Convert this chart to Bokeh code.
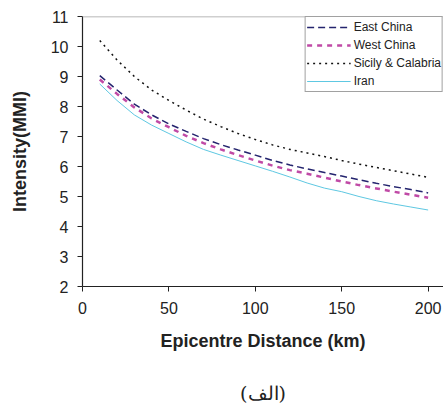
from bokeh.plotting import figure
from bokeh.models import FixedTicker, Range1d, Span, LinearAxis, Legend, LegendItem
from bokeh.embed import file_html
from bokeh.resources import INLINE

distance = [10, 20, 30, 40, 50, 60, 70, 80, 90, 100, 110, 120, 130, 140, 150, 160, 170, 180, 190, 200]
east_china = [9.03, 8.55, 8.08, 7.72, 7.42, 7.17, 6.93, 6.73, 6.55, 6.38, 6.20, 6.05, 5.92, 5.80, 5.68, 5.56, 5.44, 5.33, 5.23, 5.12]
west_china = [8.90, 8.42, 7.97, 7.60, 7.31, 7.02, 6.78, 6.57, 6.38, 6.20, 6.03, 5.88, 5.76, 5.63, 5.50, 5.38, 5.27, 5.16, 5.06, 4.96]
sicily_calabria = [10.20, 9.55, 9.00, 8.55, 8.20, 7.88, 7.58, 7.33, 7.10, 6.90, 6.72, 6.57, 6.45, 6.33, 6.20, 6.08, 5.97, 5.86, 5.75, 5.64]
iran = [8.75, 8.20, 7.72, 7.38, 7.10, 6.82, 6.57, 6.38, 6.20, 6.02, 5.84, 5.65, 5.45, 5.28, 5.16, 5.00, 4.86, 4.75, 4.65, 4.55]

x_ticks = [0, 50, 100, 150, 200]
y_ticks = [2, 3, 4, 5, 6, 7, 8, 9, 10, 11]
caption = "(الف)"

FONT = "Liberation Sans"

p = figure(width=443, height=406, output_backend="svg", toolbar_location=None,
           x_range=Range1d(0, 208.9), y_range=Range1d(2, 11),
           min_border_left=82, min_border_right=0, min_border_top=16, min_border_bottom=119)
p.outline_line_color = None
p.grid.visible = False
p.background_fill_color = "white"
p.border_fill_color = "white"

p.add_layout(Span(location=11, dimension="width", line_color="#a0a0a0", line_width=1.5))

r1 = p.line(distance, east_china, line_color="#24246e", line_width=1.5, line_dash="7 4")
r2 = p.line(distance, west_china, line_color="#c04aa6", line_width=2.5, line_dash="5 5")
r3 = p.line(distance, sicily_calabria, line_color="#111111", line_width=1.5, line_dash="2 4")
r4 = p.line(distance, iran, line_color="#5ec8e2", line_width=1)

for ax in (p.xaxis[0], p.yaxis[0]):
    ax.axis_line_color = "#222222"
    ax.axis_line_width = 1.2
    ax.major_tick_line_color = "#222222"
    ax.major_tick_out = 5
    ax.major_tick_in = 0
    ax.minor_tick_line_color = None
    ax.major_label_text_font = FONT
    ax.major_label_text_font_size = "16px"
    ax.major_label_text_color = "#222222"
    ax.axis_label_text_font = FONT
    ax.axis_label_text_font_size = "18px"
    ax.axis_label_text_font_style = "bold"
    ax.axis_label_text_color = "#222222"

p.xaxis.ticker = FixedTicker(ticks=x_ticks)
p.yaxis.ticker = FixedTicker(ticks=y_ticks)
p.xaxis.axis_label = "Epicentre Distance (km)"
p.yaxis.axis_label = "Intensity(MMI)"
p.xaxis.major_label_standoff = 10
p.xaxis.axis_label_standoff = 14
p.yaxis.major_label_standoff = 9
p.yaxis.axis_label_standoff = 18

# caption below the x axis, drawn as the label of an empty axis
cap_axis = LinearAxis(ticker=FixedTicker(ticks=[]), axis_label=caption,
                      axis_line_color=None, major_tick_line_color=None,
                      minor_tick_line_color=None, major_tick_out=0, major_tick_in=0,
                      major_label_standoff=0, axis_label_standoff=28,
                      axis_label_text_font="DejaVu Serif", axis_label_text_font_size="19px",
                      axis_label_text_font_style="normal", axis_label_text_color="#222222")
p.add_layout(cap_axis, "below")

legend = Legend(items=[
    LegendItem(label="East China", renderers=[r1]),
    LegendItem(label="West China", renderers=[r2]),
    LegendItem(label="Sicily & Calabria", renderers=[r3]),
    LegendItem(label="Iran", renderers=[r4]),
], location="top_right")
legend.margin = 0
legend.padding = 1
legend.spacing = 0
legend.label_height = 18
legend.glyph_height = 18
legend.glyph_width = 44
legend.label_standoff = 3
legend.label_text_font = FONT
legend.label_text_font_size = "12px"
legend.label_text_color = "#222222"
legend.border_line_color = "#444444"
legend.border_line_width = 1
legend.background_fill_alpha = 1
p.add_layout(legend)

open("out.html", "w").write(file_html(p, INLINE))
